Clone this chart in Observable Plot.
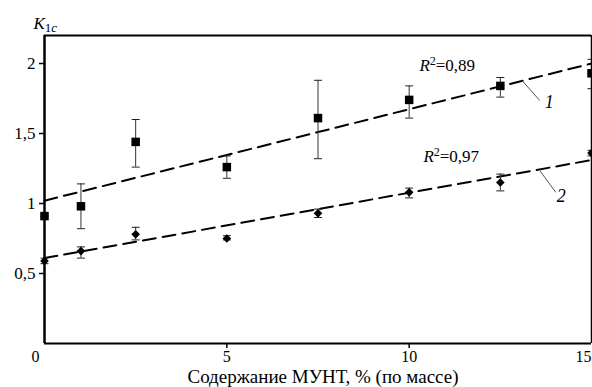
<!DOCTYPE html>
<html><head><meta charset="utf-8">
<script src="https://cdn.jsdelivr.net/npm/d3@7"></script>
<script src="https://cdn.jsdelivr.net/npm/@observablehq/plot@0.6"></script>
<style>
body{margin:0;background:#fff}
#chart svg{background:#fff;display:block}
#chart svg, #chart svg text{font-family:"Liberation Serif", serif !important}
</style>
</head><body><div id="chart"></div>
<script>
// --- data ---
const content = [0, 1, 2.5, 5, 7.5, 10, 12.5, 15];           // МУНТ, % (по массе)
const k1   = [0.91, 0.98, 1.44, 1.26, 1.61, 1.74, 1.84, 1.93]; // series 1 (squares)
const k1Lo = [0.91, 0.82, 1.26, 1.18, 1.32, 1.61, 1.76, 1.82];
const k1Hi = [0.91, 1.14, 1.60, 1.34, 1.88, 1.84, 1.90, 2.03];
const k2   = [0.59, 0.66, 0.78, 0.75, 0.93, 1.08, 1.15, 1.36]; // series 2 (diamonds)
const k2Lo = [0.57, 0.61, 0.74, 0.74, 0.90, 1.04, 1.09, 1.34];
const k2Hi = [0.61, 0.69, 0.83, 0.77, 0.96, 1.11, 1.21, 1.38];
const fitX = [0, 15];
const fit1 = [1.02, 2.00];
const fit2 = [0.61, 1.31];
const yTicks = [0.5, 1, 1.5, 2];
const xTicks = [5, 10];
const r2Text = ["R2=0,89", "R2=0,97"];
const r2X = [10.28, 10.39];
const r2Y = [1.943, 1.293];
const curveNames = ["1", "2"];
const leadX1 = [13.10, 13.58], leadY1 = [1.877, 1.236];
const leadX2 = [13.58, 14.02], leadY2 = [1.736, 1.080];
const nameX = [13.84, 14.17], nameY = [1.72, 1.05];

const FF = "Liberation Serif";
const s1 = content.map((x, i) => ({x, y: k1[i], lo: k1Lo[i], hi: k1Hi[i]}));
const s2 = content.map((x, i) => ({x, y: k2[i], lo: k2Lo[i], hi: k2Hi[i]}));
const f1 = fitX.map((x, i) => ({x, y: fit1[i]}));
const f2 = fitX.map((x, i) => ({x, y: fit2[i]}));
const r2 = r2Text.map((t, i) => ({t, x: r2X[i], y: r2Y[i]}));
const leads = curveNames.map((n, i) => ({n, x1: leadX1[i], y1: leadY1[i], x2: leadX2[i], y2: leadY2[i], nx: nameX[i], ny: nameY[i]}));
const errs = s1.concat(s2);

const cap = {draw(ctx, size) { const w = Math.sqrt(size / Math.PI); ctx.moveTo(-w, 0); ctx.lineTo(w, 0); }};
const comma = d => String(d).replace(".", ",");

const chart = Plot.plot({
  width: 592, height: 387,
  marginLeft: 44, marginRight: 1, marginTop: 35, marginBottom: 44,
  x: {domain: [0, 15]},
  y: {domain: [0, 2.2]},
  marks: [
    Plot.axisY({ticks: yTicks, tickFormat: comma, tickSize: 5, tickPadding: 4, fontSize: 17, fontFamily: FF, strokeWidth: 1.5, label: null}),
    Plot.axisX({ticks: xTicks, tickSize: 5, tickPadding: 2, fontSize: 16, fontFamily: FF, strokeWidth: 1.5, label: null}),
    Plot.text(["0"], {x: () => 0, y: () => 0, text: d => d, dx: -9, dy: 13, fontSize: 16, fontFamily: FF}),
    Plot.text(["15"], {x: () => 15, y: () => 0, text: d => d, dx: -8, dy: 13, fontSize: 16, fontFamily: FF}),
    Plot.text(["Содержание МУНТ, % (по массе)"], {frameAnchor: "bottom", text: d => d, dx: 5, dy: 39, fontSize: 19, fontFamily: FF}),
    Plot.text(["K1c"], {frameAnchor: "top-left", text: d => d, dx: -11, dy: -7, lineAnchor: "bottom", textAnchor: "start", fontSize: 17, fontFamily: FF, className: "ylab"}),
    // trend lines
    Plot.line(f1, {x: "x", y: "y", stroke: "#000", strokeWidth: 2, strokeDasharray: "13,7"}),
    Plot.line(f2, {x: "x", y: "y", stroke: "#000", strokeWidth: 2, strokeDasharray: "13,7"}),
    // error bars
    Plot.ruleX(errs, {x: "x", y1: "lo", y2: "hi", stroke: "#333", strokeWidth: 1}),
    Plot.dot(errs, {x: "x", y: "lo", symbol: cap, r: 4, fill: "none", stroke: "#222", strokeWidth: 1}),
    Plot.dot(errs, {x: "x", y: "hi", symbol: cap, r: 4, fill: "none", stroke: "#222", strokeWidth: 1}),
    // markers
    Plot.dot(s1, {x: "x", y: "y", symbol: "square", r: 4.8, fill: "#000"}),
    Plot.dot(s2, {x: "x", y: "y", symbol: "diamond2", r: 3.9, fill: "#000"}),
    // annotations
    Plot.link(leads, {x1: "x1", y1: "y1", x2: "x2", y2: "y2", stroke: "#555", strokeWidth: 1}),
    Plot.text(leads, {x: "nx", y: "ny", text: "n", fontSize: 18, fontStyle: "italic", fontFamily: FF}),
    Plot.text(r2, {x: "x", y: "y", text: "t", textAnchor: "start", lineAnchor: "bottom", fontSize: 17, fontFamily: FF, className: "r2lab"}),
    // frame
    Plot.ruleY([0, 2.2], {stroke: "#000", strokeWidth: 2}),
    Plot.ruleX([0], {stroke: "#000", strokeWidth: 2.5}),
    Plot.ruleX([15], {stroke: "#000", strokeWidth: 1.5})
  ]
});

// rich text: italic letters, super/subscripts
d3.select(chart).selectAll("g.r2lab text").each(function() {
  const t = d3.select(this); const s = t.text(); t.text("");
  t.append("tspan").attr("font-style", "italic").text(s[0]);
  t.append("tspan").attr("font-size", 12).attr("dy", -6).text(s[1]);
  t.append("tspan").attr("dy", 6).text(s.slice(2));
});
d3.select(chart).selectAll("g.ylab text").each(function() {
  const t = d3.select(this); const s = t.text(); t.text("");
  t.append("tspan").attr("font-style", "italic").text(s[0]);
  t.append("tspan").attr("font-size", 13).attr("dy", 3).text(s[1]);
  t.append("tspan").attr("font-size", 13).attr("font-style", "italic").text(s[2]);
});
document.getElementById("chart").append(chart);
</script>
</body></html>
